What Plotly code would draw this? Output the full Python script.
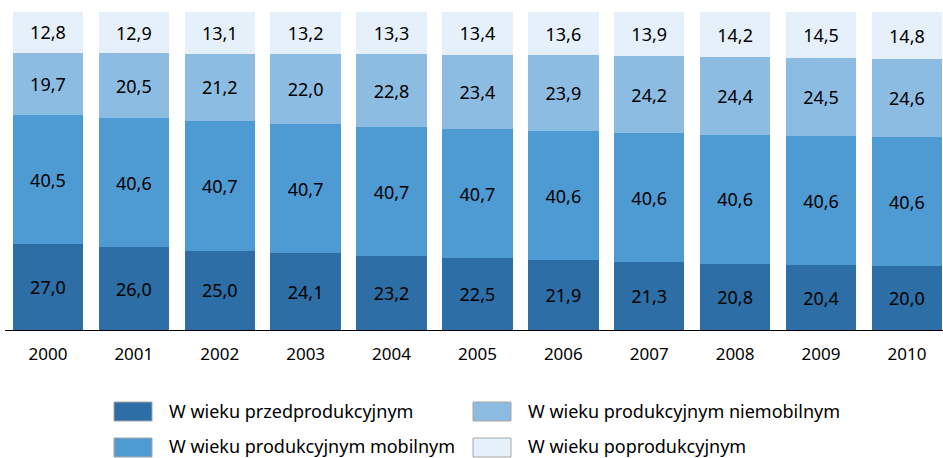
import plotly.graph_objects as go

years = ["2000", "2001", "2002", "2003", "2004", "2005", "2006", "2007", "2008", "2009", "2010"]
przed = [27.0, 26.0, 25.0, 24.1, 23.2, 22.5, 21.9, 21.3, 20.8, 20.4, 20.0]
mobil = [40.5, 40.6, 40.7, 40.7, 40.7, 40.7, 40.6, 40.6, 40.6, 40.6, 40.6]
niemobil = [19.7, 20.5, 21.2, 22.0, 22.8, 23.4, 23.9, 24.2, 24.4, 24.5, 24.6]
popro = [12.8, 12.9, 13.1, 13.2, 13.3, 13.4, 13.6, 13.9, 14.2, 14.5, 14.8]

names = ["W wieku przedprodukcyjnym", "W wieku produkcyjnym mobilnym",
         "W wieku produkcyjnym niemobilnym", "W wieku poprodukcyjnym"]
series = [przed, mobil, niemobil, popro]
colors = ["#2C6EA5", "#4E9BD4", "#8DBCE3", "#E5F0FA"]

FONT = "Noto Sans"

fig = go.Figure()
for name, vals, col in zip(names, series, colors):
    fig.add_trace(go.Bar(
        x=years, y=vals, name=name,
        marker=dict(color=col, line=dict(width=0)),
        texttemplate="%{y:.1f}", textposition="inside", insidetextanchor="middle",
        textfont=dict(family=FONT, size=18, color="black"),
        showlegend=False))

fig.update_layout(
    barmode="stack", bargap=0.18, separators=", ",
    width=943, height=458,
    margin=dict(l=5, r=0, t=12, b=128),
    plot_bgcolor="white", paper_bgcolor="white",
    font=dict(family=FONT, size=17, color="black"),
    uniformtext=dict(mode="show", minsize=18),
)
fig.update_xaxes(range=[-0.5, 10.42], showline=True, linecolor="black", linewidth=1,
                 ticks="", ticklabelstandoff=9, tickfont=dict(size=17, family=FONT))
fig.update_yaxes(range=[0, 100], visible=False)

# manual legend (large swatches like the original)
plot_h = 458 - 12 - 128
def py(pix):
    # pixel y from top of image -> paper coords
    return (458 - 128 - pix) / plot_h
def px_(pix):
    return (pix - 5) / (943 - 5)

leg = [(0, 114, 402, 411), (2, 473, 402, 411), (1, 114, 438, 446), (3, 473, 438, 446)]
for idx, x0, y0, yc in leg:
    fig.add_shape(type="rect", xref="paper", yref="paper",
                  x0=px_(x0), x1=px_(x0 + 38), y0=py(y0), y1=py(y0 + 19),
                  fillcolor=colors[idx], line=dict(color="#A6A6A6", width=1))
    fig.add_annotation(xref="paper", yref="paper", x=px_(x0 + 53), y=py(yc),
                       text=names[idx], showarrow=False, xanchor="left", yanchor="middle",
                       font=dict(family=FONT, size=18, color="black"))

fig.write_html("out.html", config={"displayModeBar": False},
               post_script="document.body.style.margin='0';")
